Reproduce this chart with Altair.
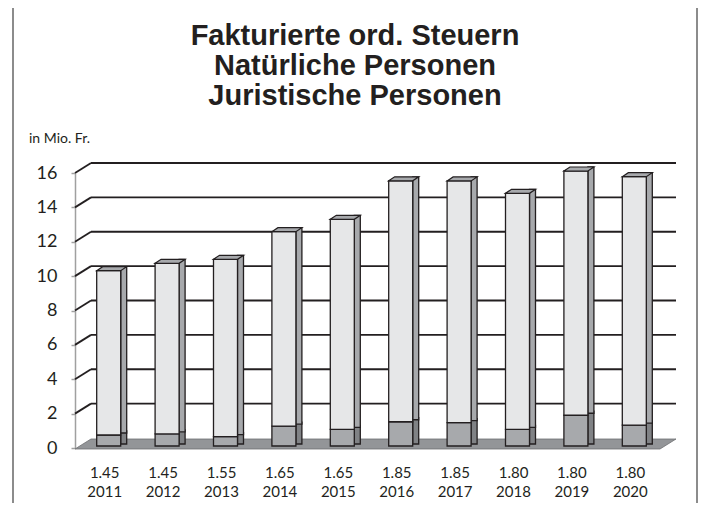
import altair as alt
import pandas as pd

# ---- data ----
years = ["2011", "2012", "2013", "2014", "2015", "2016", "2017", "2018", "2019", "2020"]
rates = ["1.45", "1.45", "1.55", "1.65", "1.65", "1.85", "1.85", "1.80", "1.80", "1.80"]
natuerliche = [9.56, 9.93, 10.32, 11.31, 12.22, 14.02, 14.06, 13.73, 14.21, 14.45]
juristische = [0.64, 0.70, 0.54, 1.16, 0.97, 1.41, 1.36, 0.97, 1.79, 1.22]
grid_values = [2, 4, 6, 8, 10, 12, 14, 16]
axis_values = [0, 2, 4, 6, 8, 10, 12, 14, 16]
title_lines = ["Fakturierte ord. Steuern", "Natürliche Personen", "Juristische Personen"]
unit_label = "in Mio. Fr."

df = pd.DataFrame({"Jahr": years, "Satz": rates, "Nat": natuerliche, "Jur": juristische})
df["Total"] = df["Nat"] + df["Jur"]
df["Zero"] = 0.0
df["Label"] = df["Satz"] + " " + df["Jahr"]
order = list(df["Label"])

grid_df = pd.DataFrame({"v": grid_values})
one = pd.DataFrame({"z": [0.0]})

W, H = 585, 275
DX, DY = 16, -10  # depth of the back wall

ink = "#231f20"
xscale = alt.Scale(domain=order, paddingInner=0.589, paddingOuter=0.303)
yscale = alt.Scale(domain=[0, 16], nice=False, zero=True)

x_axis = alt.Axis(title=None, labelAngle=0, domain=False, ticks=False,
                  labelExpr="split(datum.value, ' ')", labelFont="Lato",
                  labelFontSize=15, labelColor=ink, labelPadding=17,
                  labelLineHeight=19)
y_axis = alt.Axis(title=None, values=axis_values, grid=False, domainColor="#a0a0a0",
                  domainWidth=1.5, tickColor="#a0a0a0", tickSize=4, tickWidth=1.5,
                  labelFont="Lato", labelFontSize=18, labelColor=ink, labelPadding=14)


def Y(field):
    return alt.Y(field, scale=yscale, axis=y_axis)


X = alt.X("Label:N", sort=order, scale=xscale, axis=x_axis)

# floor (parallelogram symbol)
floor_path = "M -1 0.0033 L -0.9468 -0.02995 L 1 -0.02995 L 0.9468 0.0033 Z"
floor = alt.Chart(one).mark_point(
    shape=floor_path, size=601 * 601, filled=True, fill="#939598", opacity=1,
    stroke="#6d6e71", strokeWidth=0.8
).encode(x=alt.value(300.5), y=Y("z:Q"))

back_grid = alt.Chart(grid_df).mark_rule(color=ink, strokeWidth=1.8, yOffset=DY).encode(
    x=alt.value(DX), x2=alt.value(W + DX), y=Y("v:Q")
)
connectors = alt.Chart(grid_df).mark_rule(color=ink, strokeWidth=1.8, y2Offset=DY).encode(
    x=alt.value(0), x2=alt.value(DX), y=Y("v:Q"), y2="v:Q"
)

bar_style = dict(stroke=ink, strokeWidth=1.3)

low_side = alt.Chart(df).mark_bar(width=6, xOffset=19, yOffset=-6, y2Offset=-4,
                                  fill="#808285", **bar_style).encode(
    x=X, y=Y("Jur:Q"), y2="Zero:Q")
up_side = alt.Chart(df).mark_bar(width=6, xOffset=19, yOffset=-6, y2Offset=-4,
                                 fill="#a7a9ac", **bar_style).encode(
    x=X, y=Y("Total:Q"), y2="Jur:Q")
low_front = alt.Chart(df).mark_bar(xOffset=4, yOffset=-2, y2Offset=-2,
                                   fill="#a7a9ac", **bar_style).encode(
    x=X, y=Y("Jur:Q"), y2="Zero:Q")
up_front = alt.Chart(df).mark_bar(xOffset=4, yOffset=-2, y2Offset=-2,
                                  fill="#e6e7e8", **bar_style).encode(
    x=X, y=Y("Total:Q"), y2="Jur:Q")

top_path = "M -1 0 L -0.6 -0.2667 L 1 -0.2667 L 0.6 0 Z"
top_face = alt.Chart(df).mark_point(
    shape=top_path, size=900, filled=True, fill="#a7a9ac", opacity=1,
    stroke=ink, strokeWidth=1.2, xOffset=7, yOffset=-2
).encode(x=X, y=Y("Total:Q"))

title = alt.Chart(one).mark_text(
    font="Liberation Sans", fontWeight="bold", fontSize=29, color=ink,
    align="center", baseline="alphabetic", lineHeight=30
).encode(x=alt.value(280), y=alt.value(-128), text=alt.value(title_lines))

unit = alt.Chart(one).mark_text(
    font="Lato", fontSize=14, color=ink, align="left", baseline="middle"
).encode(x=alt.value(-46), y=alt.value(-34), text=alt.value(unit_label))

frame_style = dict(color="#8c8c8c", strokeWidth=2)
frame_left = alt.Chart(one).mark_rule(**frame_style).encode(
    x=alt.value(-62), y=alt.value(-166), y2=alt.value(340))
frame_top = alt.Chart(one).mark_rule(**frame_style).encode(
    x=alt.value(-62), x2=alt.value(622), y=alt.value(-166))
frame_right = alt.Chart(one).mark_rule(**frame_style).encode(
    x=alt.value(622), y=alt.value(-166), y2=alt.value(340))

chart = alt.layer(
    floor, back_grid, connectors,
    low_side, up_side, low_front, up_front, top_face,
    title, unit, frame_left, frame_top, frame_right
).properties(
    width=W, height=H, autosize="none",
    padding={"left": 67, "top": 165, "right": 38, "bottom": 55},
    background="white"
).configure_view(stroke=None)

chart.save("out.html", embed_options={"renderer": "svg", "actions": False})
